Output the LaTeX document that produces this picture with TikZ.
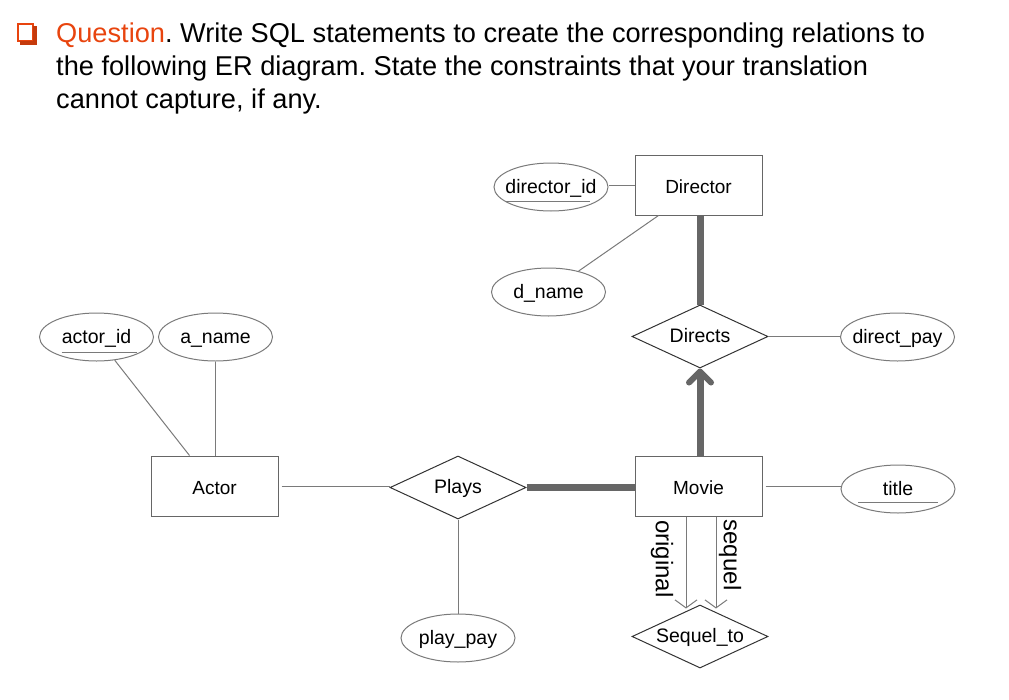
\documentclass[tikz,border=0pt]{standalone}
\usepackage{fontspec}
\setmainfont{Liberation Sans}
\usetikzlibrary{shapes.geometric,arrows.meta,calc}
\definecolor{qorange}{HTML}{E8440E}
\definecolor{lgray}{HTML}{7A7A7A}
\definecolor{dgray}{HTML}{666666}
\newcommand{\ctr}[1]{\makebox[0pt]{#1}}
\tikzset{
  entity/.style={draw=dgray, line width=1pt, minimum width=127pt, minimum height=60pt, inner sep=0pt, text height=16pt, text depth=0pt, font=\fontsize{19}{22}\selectfont},
  attr/.style={draw=lgray, line width=1pt, ellipse, minimum width=114pt, minimum height=48pt, inner sep=0pt, text height=13pt, text depth=0pt, font=\fontsize{19.5}{22}\selectfont},
  rel/.style={draw=black!80, line width=1pt, diamond, shape aspect=2.16, minimum width=136pt, minimum height=63pt, inner sep=0pt, text height=11pt, text depth=0pt, font=\fontsize{19.5}{22}\selectfont},
  conn/.style={draw=lgray, line width=1pt},
  thick conn/.style={draw=dgray, line width=7pt},
  role/.style={font=\fontsize{24}{26}\selectfont, rotate=-90, inner sep=0pt},
  keyline/.style={draw=lgray, line width=1pt}
}
\begin{document}
\frenchspacing
\begin{tikzpicture}[x=1pt,y=-1pt]
\useasboundingbox (0,0) rectangle (1009,699);
% bullet
\draw[qorange, line width=2pt] (18,24) rectangle (33,41);
\fill[qorange!85!black] (33,26) rectangle (36.5,44.5);
\fill[qorange!85!black] (19.5,41) rectangle (36.5,44.5);
% question
\node[anchor=north west, align=left, inner sep=0pt, font=\fontsize{27.2}{33}\selectfont] (q) at (56,22.5)
 {\textcolor{qorange}{Question}. Write SQL statements to create the corresponding relations to\\
 the following ER diagram. State the constraints that your translation\\
 cannot capture, if any.};
% entities
\node[entity] (director) at (698.5,185) {Director};
\node[entity] (movie) at (698.5,486) {Movie};
\node[entity] (actor) at (214.5,486) {Actor};
% relationships
\node[rel] (directs) at (700,336.5) {\ctr{Directs}};
\node[rel] (plays) at (458,487.5) {\ctr{Plays}};
\node[rel] (sequel) at (700,636.5) {\ctr{Sequel\_to}};
% attributes
\node[attr] (did) at (551,187) {\ctr{director\_id}};
\node[attr] (dname) at (548.5,292) {\ctr{d\_name}};
\node[attr] (dpay) at (897.5,337) {\ctr{direct\_pay}};
\node[attr] (title) at (898,489) {\ctr{title}};
\node[attr] (aid) at (96.5,337) {\ctr{actor\_id}};
\node[attr] (aname) at (215.5,337) {\ctr{a\_name}};
\node[attr] (ppay) at (458,638) {\ctr{play\_pay}};
% key underlines
\draw[keyline] ($(did)+(-46,14)$) -- ($(did)+(39,14)$);
\draw[keyline] ($(aid)+(-35,15)$) -- ($(aid)+(40,15)$);
\draw[keyline] ($(title)+(-40,13)$) -- ($(title)+(40,13)$);
% attribute connectors
\draw[conn] (director.west) -- (director.west -| did.east);
\draw[conn] (dname) -- ($(director.south west)+(24,0)$);
\draw[conn] (directs.east) -- (directs.east -| dpay.west);
\draw[conn, shorten <=3pt] (movie.east) -- (movie.east -| title.west);
\draw[conn] (aid) -- ($(actor.north west)+(39,0)$);
\draw[conn] (aname.south) -- (aname.south |- actor.north);
\draw[conn] (plays.south) -- (ppay.north);
\draw[conn, shorten <=3pt] (actor.east) -- (actor.east -| plays.west);
% thick participation
\draw[thick conn] (director.south -| directs.north) -- (directs.north);
\draw[thick conn] (plays.east) -- (movie.west |- plays.east);
\draw[thick conn, -{Straight Barb[length=11pt,width=22pt,line width=6pt,round]}] (movie.north -| directs.south) -- (directs.south);
% sequel roles
\coordinate (o1) at ($(movie.south)+(-12.5,0)$);
\coordinate (o2) at (o1 |- sequel.north);
\coordinate (s1) at ($(movie.south)+(17.5,0)$);
\coordinate (s2) at (s1 |- sequel.north);
\draw[conn, -{Straight Barb[length=8pt,width=22pt]}, shorten >=-4pt] (o1) -- (o2);
\draw[conn, -{Straight Barb[length=8pt,width=22pt]}, shorten >=-4pt] (s1) -- (s2);
\node[role] (orig) at (662,559) {original};
\node[role] (seql) at (730,555) {sequel};
\end{tikzpicture}
\end{document}
